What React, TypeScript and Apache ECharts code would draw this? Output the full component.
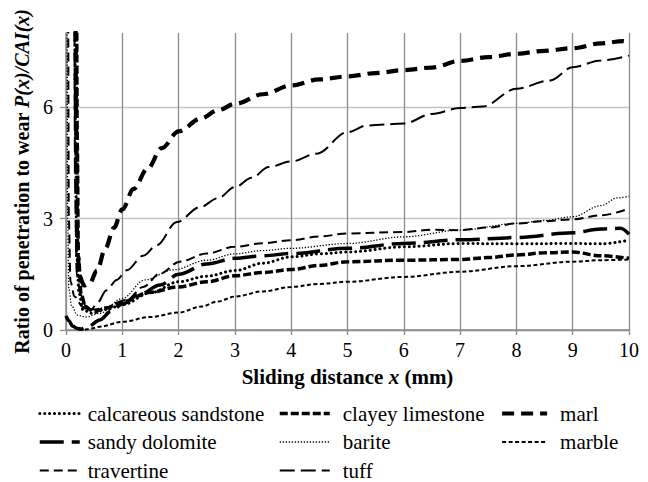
import React, { useEffect, useRef } from "react";
import * as echarts from "echarts";

// Sliding distance x (mm) vs. ratio P(x)/CAI(x), one [x, y] list per rock type
const calcareousSandstone: number[][] = [
  [0.16, 8.6], [0.17, 5], [0.19, 2], [0.23, 1.0], [0.3, 0.55], [0.45, 0.45], [0.7, 0.55],
  [1.0, 0.68], [1.5, 1.0], [2.0, 1.3], [2.5, 1.45], [3.0, 1.6], [3.5, 1.8], [4.0, 1.97],
  [4.5, 2.05], [5.0, 2.1], [6.0, 2.24], [7.0, 2.33], [8.0, 2.32], [9.0, 2.33], [9.5, 2.32], [10, 2.42],
];
const clayeyLimestone: number[][] = [
  [0.19, 8.6], [0.2, 5], [0.22, 2], [0.27, 0.95], [0.35, 0.6], [0.5, 0.5], [0.7, 0.58],
  [1.0, 0.76], [1.5, 1.02], [2.0, 1.16], [2.5, 1.3], [3.0, 1.46], [3.5, 1.55], [4.0, 1.63],
  [4.5, 1.74], [5.0, 1.84], [6.0, 1.88], [7.0, 1.9], [7.5, 1.95], [8.0, 2.02], [8.5, 2.08],
  [9.0, 2.1], [9.5, 2.0], [10, 1.93],
];
const marl: number[][] = [
  [0.17, 8.6], [0.18, 5.5], [0.2, 2.2], [0.24, 1.45], [0.32, 1.2], [0.42, 1.25], [0.55, 1.6],
  [0.7, 2.2], [0.85, 2.75], [1.0, 3.25], [1.2, 3.8], [1.45, 4.35], [1.7, 4.9], [2.0, 5.35],
  [2.4, 5.7], [2.7, 5.92], [3.0, 6.09], [3.5, 6.35], [4.0, 6.59], [4.5, 6.75], [5.0, 6.83],
  [5.5, 6.92], [6.0, 7.0], [6.5, 7.07], [7.0, 7.25], [7.5, 7.35], [8.0, 7.44], [8.5, 7.52],
  [9.0, 7.59], [9.5, 7.72], [9.9, 7.78], [10, 7.72],
];
const sandyDolomite: number[][] = [
  [0, 0.38], [0.05, 0.25], [0.12, 0.1], [0.2, 0.04], [0.28, 0.03], [0.4, 0.1], [0.6, 0.27],
  [0.8, 0.5], [1.0, 0.7], [1.3, 0.95], [1.67, 1.21], [2.0, 1.5], [2.5, 1.78], [3.0, 1.93],
  [3.5, 2.0], [4.0, 2.06], [5.0, 2.2], [6.0, 2.33], [7.0, 2.43], [8.0, 2.49], [9.0, 2.62],
  [9.5, 2.72], [9.85, 2.74], [10, 2.58],
];
const barite: number[][] = [
  [0.02, 8.6], [0.03, 3], [0.05, 1.1], [0.1, 0.65], [0.2, 0.4], [0.35, 0.35], [0.6, 0.45],
  [1.0, 0.85], [1.4, 1.35], [1.9, 1.62], [2.5, 1.88], [3.0, 2.05], [3.5, 2.14], [4.0, 2.2],
  [5.0, 2.33], [6.0, 2.51], [7.0, 2.69], [8.0, 2.87], [8.5, 2.95], [9.0, 3.05], [9.5, 3.35],
  [9.8, 3.56], [10, 3.6],
];
const marble: number[][] = [
  [0.22, 0.02], [0.3, 0.0], [0.45, 0.04], [0.6, 0.09], [1.0, 0.22], [1.5, 0.35], [2.0, 0.47],
  [2.4, 0.63], [2.7, 0.77], [3.0, 0.9], [3.5, 1.04], [4.0, 1.16], [4.5, 1.24], [5.0, 1.3],
  [6.0, 1.43], [7.0, 1.57], [8.0, 1.72], [9.0, 1.84], [9.5, 1.88], [10, 1.9],
];
const travertine: number[][] = [
  [0.04, 8.6], [0.05, 3], [0.08, 1.3], [0.15, 0.9], [0.3, 0.62], [0.5, 0.55], [0.75, 0.62],
  [1.08, 0.81], [1.37, 1.16], [1.67, 1.52], [2.02, 1.84], [2.5, 2.06], [3.0, 2.24], [3.5, 2.34],
  [4.0, 2.42], [4.5, 2.52], [5.0, 2.6], [6.0, 2.64], [6.5, 2.7], [7.0, 2.69], [7.5, 2.76],
  [8.0, 2.87], [8.5, 2.93], [9.0, 2.98], [9.5, 3.09], [10, 3.27],
];
const tuff: number[][] = [
  [0.15, 8.6], [0.16, 4], [0.19, 1.5], [0.26, 0.95], [0.35, 0.65], [0.45, 0.55], [0.55, 0.72],
  [0.72, 1.07], [0.9, 1.35], [1.08, 1.61], [1.37, 2.0], [1.61, 2.28], [1.97, 2.91], [2.38, 3.31],
  [2.7, 3.55], [3.0, 3.85], [3.3, 4.1], [3.6, 4.39], [4.0, 4.54], [4.45, 4.75], [5.0, 5.33],
  [5.35, 5.51], [6.0, 5.56], [6.5, 5.82], [7.0, 5.98], [7.4, 6.02], [8.0, 6.5], [8.6, 6.72],
  [9.0, 7.08], [9.5, 7.26], [10, 7.39],
];

const xTickLabels = [0, 1, 2, 3, 4, 5, 6, 7, 8, 9, 10];
const yTickLabels = [0, 3, 6];

const FONT = "Liberation Serif";
const GRID_DARK = "#8c8c8c";
const GRID_LIGHT = "#c4c4c4";

type Style = { width: number; dash: number[]; cap?: "round" | "butt" };

const seriesDefs: { name: string; data: number[][]; style: Style }[] = [
  { name: "calcareous sandstone", data: calcareousSandstone, style: { width: 3, dash: [0.1, 4.8], cap: "round" } },
  { name: "clayey limestone", data: clayeyLimestone, style: { width: 3.5, dash: [8, 3] } },
  { name: "marl", data: marl, style: { width: 4.2, dash: [12, 7] } },
  { name: "sandy dolomite", data: sandyDolomite, style: { width: 3.5, dash: [24, 8] } },
  { name: "barite", data: barite, style: { width: 1.3, dash: [1.3, 1.7] } },
  { name: "marble", data: marble, style: { width: 2, dash: [4, 2.5] } },
  { name: "travertine", data: travertine, style: { width: 2, dash: [9, 5] } },
  { name: "tuff", data: tuff, style: { width: 2, dash: [15, 6] } },
];

function legendColumn(names: string[], left: number, itemWidth: number, padLeft: number) {
  return {
    type: "plain",
    orient: "vertical",
    left,
    top: 403,
    height: 78,
    padding: 0,
    itemWidth,
    itemHeight: 20,
    itemGap: 7.5,
    selectedMode: false,
    data: names,
    itemStyle: { opacity: 0, borderWidth: 0 },
    lineStyle: { width: "inherit", type: "inherit", cap: "inherit" },
    textStyle: {
      fontFamily: FONT,
      fontSize: 21,
      color: "#000",
      lineHeight: 20,
      padding: [0, 0, 0, padLeft],
    },
  };
}

export default function App() {
  const ref = useRef<HTMLDivElement>(null);

  useEffect(() => {
    if (!ref.current) return;
    const chart = echarts.init(ref.current, undefined, { renderer: "svg" });

    chart.setOption({
      animation: false,
      backgroundColor: "#fff",
      textStyle: { fontFamily: FONT },
      grid: { left: 66, right: 19, top: 33, bottom: 152, containLabel: false },
      legend: [
        legendColumn(["calcareous sandstone", "sandy dolomite", "travertine"], 38, 40, 3),
        legendColumn(["clayey limestone", "barite", "tuff"], 278, 50, 8),
        legendColumn(["marl", "marble"], 500, 45, 8),
      ],
      xAxis: {
        type: "value",
        min: 0,
        max: 10,
        interval: 1,
        name: "Sliding distance {i|x} (mm)",
        nameLocation: "middle",
        nameGap: 36,
        nameTextStyle: {
          fontFamily: FONT,
          fontSize: 21,
          fontWeight: "bold",
          color: "#000",
          rich: {
            i: { fontFamily: FONT, fontSize: 21, fontWeight: "bold", fontStyle: "italic", color: "#000" },
          },
        },
        axisLine: { show: true, lineStyle: { color: GRID_DARK, width: 1.5 } },
        axisTick: { show: true, inside: false, length: 5, lineStyle: { color: GRID_DARK, width: 1.3 } },
        axisLabel: {
          fontFamily: FONT,
          fontSize: 20,
          color: "#000",
          margin: 10,
          formatter: (v: number) => (xTickLabels.includes(v) ? String(v) : ""),
        },
        splitLine: { show: true, lineStyle: { color: GRID_DARK, width: 1.3 } },
      },
      yAxis: {
        type: "value",
        min: 0,
        max: 8,
        interval: 1,
        name: "Ratio of penetration to wear {i|P(x)/CAI(x)}",
        nameLocation: "middle",
        nameGap: 31,
        nameTextStyle: {
          fontFamily: FONT,
          fontSize: 20,
          fontWeight: "bold",
          color: "#000",
          rich: {
            i: { fontFamily: FONT, fontSize: 20, fontWeight: "bold", fontStyle: "italic", color: "#000" },
          },
        },
        axisLine: { show: true, lineStyle: { color: GRID_DARK, width: 1.5 } },
        axisTick: {
          show: true,
          inside: false,
          length: 6,
          customValues: yTickLabels,
          lineStyle: { color: GRID_DARK, width: 1.3 },
        },
        axisLabel: {
          fontFamily: FONT,
          fontSize: 20,
          color: "#000",
          margin: 13,
          customValues: yTickLabels,
          formatter: (v: number) => (yTickLabels.includes(v) ? String(v) : ""),
        },
        splitLine: {
          show: true,
          lineStyle: { color: [GRID_DARK, GRID_LIGHT, GRID_LIGHT], width: 1.3 },
        },
      },
      series: seriesDefs.map((s) => ({
        name: s.name,
        type: "line",
        data: s.data,
        symbol: "none",
        showSymbol: false,
        smooth: 0.35,
        smoothMonotone: "x",
        clip: true,
        lineStyle: {
          color: "#000",
          width: s.style.width,
          type: s.style.dash,
          cap: s.style.cap ?? "butt",
        },
        itemStyle: { color: "#000" },
        emphasis: { disabled: true },
      })),
    });

    return () => chart.dispose();
  }, []);

  return (
    <div
      ref={ref}
      style={{ position: "fixed", left: 0, top: 0, width: 648, height: 482, background: "#fff" }}
    />
  );
}
